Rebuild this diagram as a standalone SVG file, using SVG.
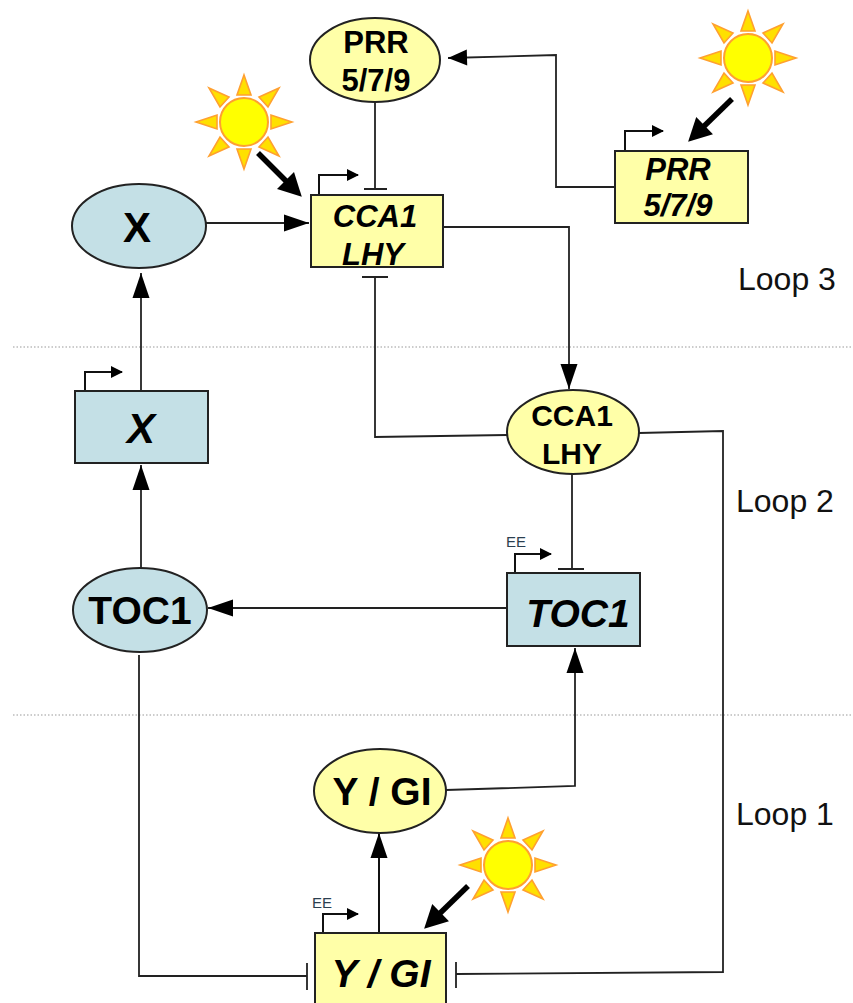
<svg xmlns="http://www.w3.org/2000/svg" xmlns:xlink="http://www.w3.org/1999/xlink" width="853" height="1003" viewBox="0 0 853 1003">
<style>
text{font-family:"Liberation Sans",Arial,sans-serif;text-anchor:middle;fill:#000}
.b{font-weight:bold}.i{font-weight:bold;font-style:italic}
.y{fill:#ffffa8;stroke:#222;stroke-width:2}
.c{fill:#c4e0e6;stroke:#222;stroke-width:2}
.l{fill:none;stroke:#222;stroke-width:1.8}
.t{fill:none;stroke:#111;stroke-width:2}
.h{fill:none;stroke:#000;stroke-width:5.5}
.d{fill:none;stroke:#999;stroke-width:1.2;stroke-dasharray:1.5 2}
.loop{font-size:32px;text-anchor:start;fill:#111}
.ee{font-size:15px;fill:#2b3f50}
.ray{fill:#ffe000;stroke:#ffa030;stroke-width:1.6}
</style>
<defs>
<marker id="a" markerUnits="userSpaceOnUse" markerWidth="28" markerHeight="20" refX="26" refY="10" orient="auto"><path d="M1 1.5L26 10L1 18.5Z" fill="#000"/></marker>
<marker id="p" markerUnits="userSpaceOnUse" markerWidth="22" markerHeight="20" refX="20" refY="10" orient="auto"><path d="M1 2L20 10L1 18Z" fill="#000"/></marker>
<marker id="s" markerUnits="userSpaceOnUse" markerWidth="14" markerHeight="14" refX="12" refY="7" orient="auto"><path d="M1 1L13 7L1 13Z" fill="#000"/></marker>
<marker id="h" markerUnits="userSpaceOnUse" markerWidth="26" markerHeight="28" refX="13" refY="14" orient="auto"><path d="M1 2L24 14L1 26Z" fill="#000"/></marker>
<g id="sun">
<path class="ray" d="M0-47L7-27H-7Z"/><path class="ray" d="M0 47L7 27H-7Z"/><path class="ray" d="M-48 0L-27-7V7Z"/><path class="ray" d="M48 0L27-7V7Z"/>
<path class="ray" d="M-35-34L-15-25L-24-15Z"/><path class="ray" d="M35-34L15-25L24-15Z"/><path class="ray" d="M-35 34L-15 25L-24 15Z"/><path class="ray" d="M35 34L15 25L24 15Z"/>
<circle r="24" fill="#ffff00" stroke="#ffa030" stroke-width="2"/>
</g>
</defs>
<g id="dividers">
<path class="d" d="M13 347H853"/><path class="d" d="M13 715H853"/>
</g>
<g id="connectors">
<path class="l" d="M375 102V189M364 189H387"/>
<path class="l" d="M615 187H556V55L448 58" marker-end="url(#p)"/>
<path class="l" d="M206 223H309" marker-end="url(#a)"/>
<path class="l" d="M443 227H569V389" marker-end="url(#a)"/>
<path class="l" d="M375 277V437L507 435M362 277H388"/>
<path class="l" d="M141 391V273" marker-end="url(#a)"/>
<path class="l" d="M141 568V465" marker-end="url(#a)"/>
<path class="l" d="M572 474V569M558 569H584"/>
<path class="l" d="M507 608H208" marker-end="url(#a)"/>
<path class="l" d="M139 655V976H307M307 963V990"/>
<path class="l" d="M639 433L723 431V972L456 974M456 962V988"/>
<path class="l" d="M446 790L575 786V648" marker-end="url(#a)"/>
<path class="t" d="M379 934V833" marker-end="url(#a)"/>
<path class="h" d="M258 153L294 189" marker-end="url(#h)"/>
<path class="h" d="M732 99L696 134" marker-end="url(#h)"/>
<path class="h" d="M468 886L432 921" marker-end="url(#h)"/>
<path class="t" d="M319 195V175H358" marker-end="url(#s)"/>
<path class="t" d="M625 151V131H663" marker-end="url(#s)"/>
<path class="t" d="M85 391V372H122" marker-end="url(#s)"/>
<path class="t" d="M515 573V554H551" marker-end="url(#s)"/>
<path class="t" d="M323 933V914H358" marker-end="url(#s)"/>
</g>
<g id="sun1"><use href="#sun" xlink:href="#sun" x="244" y="122"/></g>
<g id="sun2"><use href="#sun" xlink:href="#sun" x="748" y="58"/></g>
<g id="sun3"><use href="#sun" xlink:href="#sun" x="508" y="865"/></g>
<g id="prr-protein"><ellipse class="y" cx="375" cy="60" rx="65" ry="42"/><text class="b" font-size="31" x="376" y="53">PRR</text><text class="b" font-size="31" x="376" y="91">5/7/9</text></g>
<g id="prr-gene"><rect class="y" x="615" y="151" width="133" height="72"/><text class="i" font-size="31" x="678" y="180">PRR</text><text class="i" font-size="31" x="678" y="216">5/7/9</text></g>
<g id="cca1-gene"><rect class="y" x="311" y="195" width="132" height="72"/><text class="i" font-size="31" x="375" y="227">CCA1</text><text class="i" font-size="31" x="373" y="265">LHY</text></g>
<g id="x-protein"><ellipse class="c" cx="139" cy="226" rx="67" ry="42"/><text class="b" font-size="42" x="137" y="242">X</text></g>
<g id="x-gene"><rect class="c" x="75" y="391" width="133" height="72"/><text class="i" font-size="42" x="141" y="443">X</text></g>
<g id="cca1-protein"><ellipse class="y" cx="573" cy="432" rx="66" ry="42"/><text class="b" font-size="30" x="572" y="426">CCA1</text><text class="b" font-size="30" x="572" y="464">LHY</text></g>
<g id="toc1-protein"><ellipse class="c" cx="140" cy="610" rx="67" ry="42"/><text class="b" font-size="39" x="140" y="624">TOC1</text></g>
<g id="toc1-gene"><rect class="c" x="507" y="573" width="133" height="73"/><text class="i" font-size="39" x="578" y="627">TOC1</text></g>
<g id="ygi-protein"><ellipse class="y" cx="380" cy="791" rx="66" ry="42"/><text class="b" font-size="39" x="382" y="805">Y / GI</text></g>
<g id="ygi-gene"><rect class="y" x="315" y="933" width="131" height="80"/><text class="i" font-size="39" x="381" y="987">Y / GI</text></g>
<g id="labels">
<text class="ee" x="516" y="547">EE</text>
<text class="ee" x="322" y="908">EE</text>
<text class="loop" x="738" y="290">Loop 3</text>
<text class="loop" x="736" y="512">Loop 2</text>
<text class="loop" x="736" y="825">Loop 1</text>
</g>
</svg>
